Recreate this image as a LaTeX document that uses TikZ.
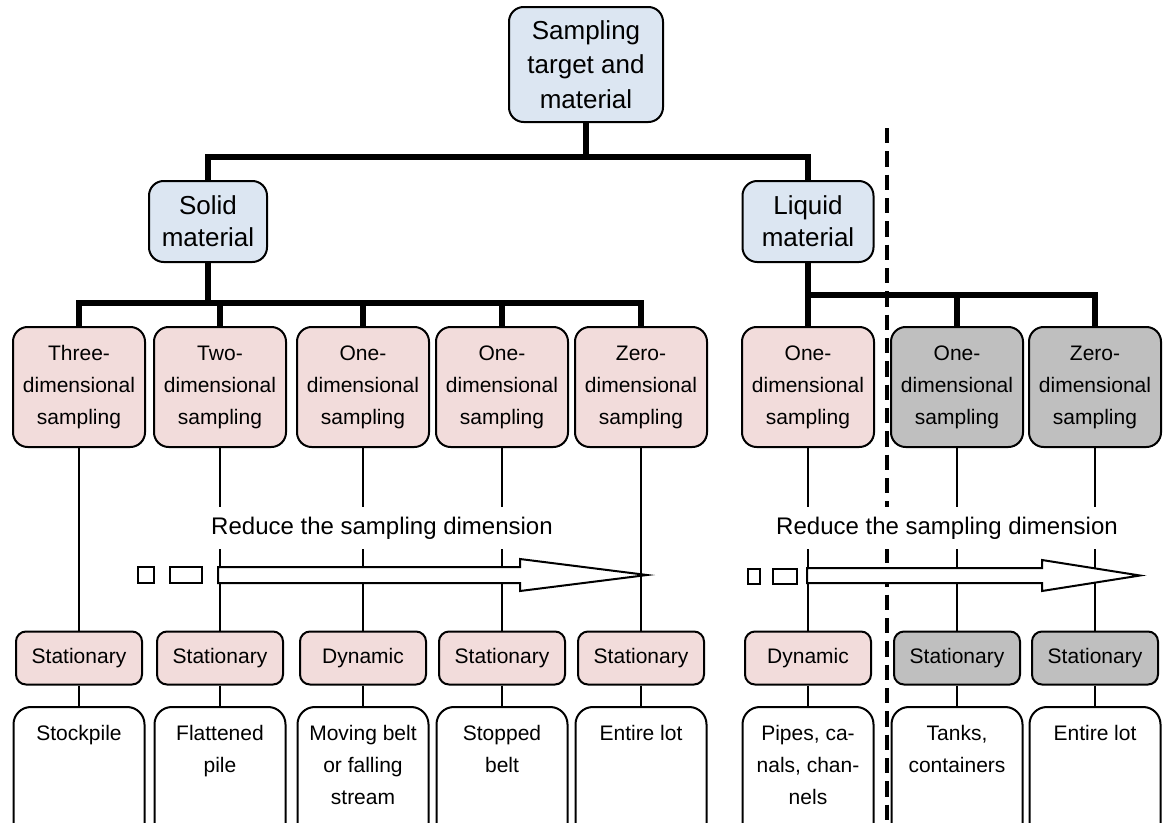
\documentclass[tikz,border=0pt]{standalone}
\usepackage{fontspec}
\setmainfont{Liberation Sans}
\definecolor{blueF}{HTML}{DCE6F2}
\definecolor{pinkF}{HTML}{F2DCDB}
\definecolor{grayF}{HTML}{BFBFBF}
\begin{document}
\begin{tikzpicture}[x=0.75pt,y=-0.75pt,line join=miter,
  box/.style={draw=black, line width=1.5pt, align=center, inner sep=2pt},
  topbox/.style={box, fill=blueF, rounded corners=11pt, font=\fontsize{19.5}{24}\selectfont},
  dimbox/.style={box, minimum width=99pt, minimum height=90pt, rounded corners=11pt, font=\fontsize{15.75}{24}\selectfont},
  modebox/.style={box, minimum width=94.5pt, minimum height=39.75pt, rounded corners=7.5pt, font=\fontsize{15.75}{24}\selectfont},
  objbox/.style={box, fill=white, anchor=north, minimum width=98.25pt, inner ysep=14pt, inner xsep=3pt, rounded corners=13pt, font=\fontsize{15.75}{24}\selectfont},
  bus/.style={line width=4.2pt},
  link/.style={line width=2.2pt},
  divider/.style={line width=2.6pt, dash pattern=on 11.5pt off 6pt},
  reduce/.style={fill=white, font=\fontsize{18}{22}\selectfont, inner xsep=2pt, minimum height=31.5pt},
  arrowshape/.style={draw=black, fill=white, line width=1.5pt}]
\useasboundingbox (0,0) rectangle (1167,822);
\fill[white] (0,0) rectangle (1167,822);
\clip (0,0) rectangle (1167,822);

% top levels
\node[topbox, minimum width=115.5pt, minimum height=86.25pt, font=\fontsize{19.5}{26}\selectfont] (top) at (586,64.5) {Sampling\\target and\\material};
\node[topbox, minimum width=88.5pt, minimum height=60.75pt] (solid) at (208,221.5) {Solid\\material};
\node[topbox, minimum width=98.25pt, minimum height=60.75pt] (liquid) at (808,221.5) {Liquid\\material};

% dimension boxes
\node[dimbox, fill=pinkF] (d1) at (79,387) {Three-\\dimensional\\sampling};
\node[dimbox, fill=pinkF] (d2) at (220,387) {Two-\\dimensional\\sampling};
\node[dimbox, fill=pinkF] (d3) at (363,387) {One-\\dimensional\\sampling};
\node[dimbox, fill=pinkF] (d4) at (502,387) {One-\\dimensional\\sampling};
\node[dimbox, fill=pinkF] (d5) at (641,387) {Zero-\\dimensional\\sampling};
\node[dimbox, fill=pinkF] (d6) at (808,387) {One-\\dimensional\\sampling};
\node[dimbox, fill=grayF] (d7) at (957,387) {One-\\dimensional\\sampling};
\node[dimbox, fill=grayF] (d8) at (1095,387) {Zero-\\dimensional\\sampling};

% mode boxes
\node[modebox, fill=pinkF] (m1) at (79,658) {Stationary};
\node[modebox, fill=pinkF] (m2) at (220,658) {Stationary};
\node[modebox, fill=pinkF] (m3) at (363,658) {Dynamic};
\node[modebox, fill=pinkF] (m4) at (502,658) {Stationary};
\node[modebox, fill=pinkF] (m5) at (641,658) {Stationary};
\node[modebox, fill=pinkF] (m6) at (808,658) {Dynamic};
\node[modebox, fill=grayF] (m7) at (957,658) {Stationary};
\node[modebox, fill=grayF] (m8) at (1095,658) {Stationary};

% object boxes
\node[objbox] (o1) at (79,706) {Stockpile\\\mbox{}\\\mbox{}\\\mbox{}};
\node[objbox] (o2) at (220,706) {Flattened\\pile\\\mbox{}\\\mbox{}};
\node[objbox] (o3) at (363,706) {Moving belt\\or falling\\stream\\\mbox{}};
\node[objbox] (o4) at (502,706) {Stopped\\belt\\\mbox{}\\\mbox{}};
\node[objbox] (o5) at (641,706) {Entire lot\\\mbox{}\\\mbox{}\\\mbox{}};
\node[objbox] (o6) at (808,706) {Pipes, ca-\\nals, chan-\\nels\\\mbox{}};
\node[objbox] (o7) at (957,706) {Tanks,\\containers\\\mbox{}\\\mbox{}};
\node[objbox] (o8) at (1095,706) {Entire lot\\\mbox{}\\\mbox{}\\\mbox{}};

% buses
\coordinate (b0) at (586,157);
\draw[bus] (top.south) -- (b0);
\draw[bus] (solid.north) |- (b0) -| (liquid.north);
\coordinate (b1) at (208,303);
\draw[bus] (solid.south) -- (b1);
\draw[bus] (d1.north) |- (b1) -| (d5.north);
\foreach \n in {d2,d3,d4} \draw[bus] (\n.north) -- (\n.north |- b1);
\coordinate (b2) at (808,295);
\draw[bus] (liquid.south) -- (d6.north);
\draw[bus] (b2) -| (d8.north);
\draw[bus] (d7.north) -- (d7.north |- b2);

% thin links
\foreach \i in {1,...,8} {
  \draw[link] (d\i.south) -- (m\i.north);
  \draw[link] (m\i.south) -- (o\i.north);
}

% divider
\coordinate (dv1) at (887,128);
\coordinate (dv2) at (887,830);
\draw[divider] (dv1) -- (dv2);

% labels
\node[reduce] (r1) at (382,528) {Reduce the sampling dimension};
\node[reduce] (r2) at (947,528) {Reduce the sampling dimension};

% arrows
\draw[arrowshape] (218,567) -- (520,567) -- (520,559) -- (647,575) -- (520,591) -- (520,583) -- (218,583) -- cycle;
\draw[arrowshape] (138,567) rectangle (154,583);
\draw[arrowshape] (170,567) rectangle (202,583);
\draw[arrowshape] (807,568) -- (1042,568) -- (1042,560) -- (1140,575.5) -- (1042,591) -- (1042,583) -- (807,583) -- cycle;
\draw[arrowshape] (748,569) rectangle (760,584);
\draw[arrowshape] (773,569) rectangle (797,584);
\end{tikzpicture}
\end{document}
